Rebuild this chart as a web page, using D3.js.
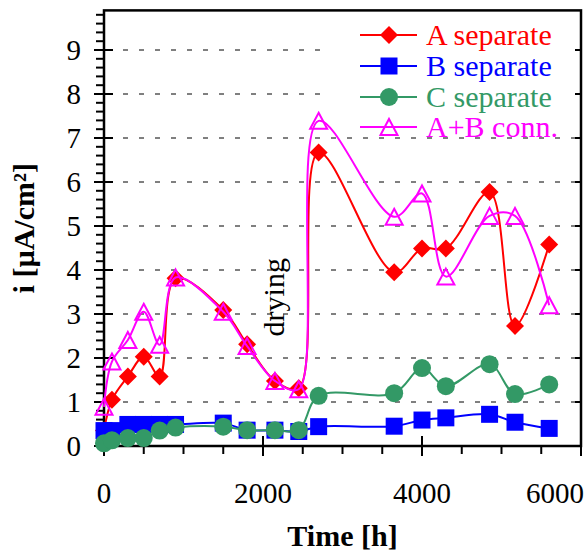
<!DOCTYPE html>
<html>
<head>
<meta charset="utf-8">
<title>Current vs time</title>
<script src="https://cdnjs.cloudflare.com/ajax/libs/d3/7.8.5/d3.min.js"></script>
<style type="text/css">
body { margin: 0; background: #fff; }
svg text { font-family: "Liberation Serif", "Times New Roman", serif; }
.grid line { stroke: #000; stroke-width: 1; stroke-dasharray: 5,11; stroke-dashoffset: 13; }
.frame { fill: none; stroke: #000; stroke-width: 2.5; }
.tick-line { stroke: #000; stroke-width: 2; }
.series-line { fill: none; stroke-width: 2; }
</style>
</head>
<body>
<svg width="587" height="552"></svg>
<script type="text/javascript">
// time of each measurement [h]
var hours = [0, 100, 300, 500, 700, 900, 1500, 1800, 2150, 2450, 2700, 3650, 4000, 4300, 4850, 5170, 5600];
// current density [uA/cm2]
var aSeparate = [0.35, 1.05, 1.58, 2.03, 1.58, 3.81, 3.09, 2.31, 1.48, 1.31, 6.67, 3.95, 4.49, 4.49, 5.77, 2.73, 4.58];
var bSeparate = [0.35, 0.35, 0.49, 0.49, 0.49, 0.49, 0.52, 0.36, 0.36, 0.33, 0.44, 0.45, 0.59, 0.64, 0.72, 0.54, 0.40];
var cSeparate = [0.06, 0.13, 0.18, 0.18, 0.35, 0.42, 0.44, 0.36, 0.36, 0.36, 1.14, 1.20, 1.77, 1.36, 1.86, 1.18, 1.40];
var abConn    = [0.89, 1.92, 2.41, 3.05, 2.30, 3.83, 3.05, 2.27, 1.48, 1.29, 7.39, 5.21, 5.74, 3.85, 5.23, 5.23, 3.20];

var seriesNames = ["A separate", "B separate", "C separate", "A+B conn."];
var seriesColors = ["#ff0000", "#0000ff", "#339966", "#ff00ff"];
var seriesMarkers = ["diamond", "square", "circle", "triangle"];
var seriesValues = [aSeparate, bSeparate, cSeparate, abConn];

var xMajorTicks = [0, 2000, 4000, 6000];
var yMajorTicks = [0, 1, 2, 3, 4, 5, 6, 7, 8, 9];
var annotation = {text: "drying", hour: 2270, value: 3.38};

var svg = d3.select("svg");
var x = d3.scaleLinear().domain([0, 6000]).range([104, 581]);
var y = d3.scaleLinear().domain([0, 9.9]).range([446, 10.4]);

// dashed horizontal grid
svg.append("g").attr("class", "grid").selectAll("line")
  .data(yMajorTicks.filter(function(d){ return d > 0; })).enter().append("line")
  .attr("x1", x(0)).attr("x2", x(6000))
  .attr("y1", function(d){ return y(d); }).attr("y2", function(d){ return y(d); });

// legend background hides the grid behind it
svg.append("rect").attr("x", 326).attr("y", 13).attr("width", 249).attr("height", 121).style("fill", "#fff");

// y axis: minor ticks every 0.2, major crossing ticks
var yMinor = d3.range(0, 9.81, 0.2);
svg.append("g").selectAll("line").data(yMinor).enter().append("line").attr("class", "tick-line")
  .attr("x1", x(0) - 8).attr("x2", x(0))
  .attr("y1", function(d){ return y(d); }).attr("y2", function(d){ return y(d); });
svg.append("g").selectAll("line").data(yMajorTicks).enter().append("line").attr("class", "tick-line")
  .attr("x1", x(0) - 10).attr("x2", x(0) + 9)
  .attr("y1", function(d){ return y(d); }).attr("y2", function(d){ return y(d); });
// right side inward ticks
svg.append("g").selectAll("line").data(yMajorTicks).enter().append("line").attr("class", "tick-line")
  .attr("x1", x(6000) - 6).attr("x2", x(6000))
  .attr("y1", function(d){ return y(d); }).attr("y2", function(d){ return y(d); });
svg.append("g").selectAll("text").data(yMajorTicks).enter().append("text")
  .attr("x", 81).attr("y", function(d){ return y(d); }).attr("dy", "0.35em")
  .attr("text-anchor", "end").style("font-size", "29px").text(function(d){ return d; });

// x axis: minor every 500 below, major crossing
var xMinor = d3.range(0, 6001, 500);
svg.append("g").selectAll("line").data(xMinor).enter().append("line").attr("class", "tick-line")
  .attr("x1", function(d){ return x(d); }).attr("x2", function(d){ return x(d); })
  .attr("y1", y(0)).attr("y2", y(0) + 8);
svg.append("g").selectAll("line").data(xMajorTicks).enter().append("line").attr("class", "tick-line")
  .attr("x1", function(d){ return x(d); }).attr("x2", function(d){ return x(d); })
  .attr("y1", y(0) - 10).attr("y2", y(0) + 10);
svg.append("g").selectAll("text").data(xMajorTicks).enter().append("text")
  .attr("x", function(d){ return d === 6000 ? 584 : x(d); }).attr("y", 503)
  .attr("text-anchor", function(d){ return d === 6000 ? "end" : "middle"; })
  .style("font-size", "29px").text(function(d){ return d; });

// frame
svg.append("rect").attr("class", "frame")
  .attr("x", x(0)).attr("y", y(9.9)).attr("width", x(6000) - x(0)).attr("height", y(0) - y(9.9));

// axis titles
svg.append("text").attr("x", (x(0) + x(6000)) / 2).attr("y", 546).attr("text-anchor", "middle")
  .style("font-size", "30px").style("font-weight", "bold").text("Time [h]");
svg.append("text").attr("transform", "translate(34," + (y(0) + y(9.9)) / 2 + ") rotate(-90)")
  .attr("text-anchor", "middle").style("font-size", "30px").style("font-weight", "bold").text("i [µA/cm²]");

function markerPath(kind) {
  if (kind === "diamond") return "M0,-9L9,0L0,9L-9,0Z";
  if (kind === "square") return "M-8.5,-8.5H8.5V8.5H-8.5Z";
  if (kind === "triangle") return "M0,-8L8.5,8L-8.5,8Z";
  return "M-9,0A9,9 0 1,0 9,0A9,9 0 1,0 -9,0Z";
}
function styleMarker(sel, i) {
  if (seriesMarkers[i] === "triangle") {
    sel.style("fill", "none").style("stroke", seriesColors[i]).style("stroke-width", 2);
  } else {
    sel.style("fill", seriesColors[i]).style("stroke", "none");
  }
}

var line = d3.line().curve(d3.curveCatmullRom.alpha(0.5))
  .x(function(d){ return x(d[0]); }).y(function(d){ return y(d[1]); });

for (var i = 0; i < seriesValues.length; i++) {
  var pts = hours.map(function(h, k){ return [h, seriesValues[i][k]]; });
  var g = svg.append("g").attr("class", "series");
  g.append("path").attr("class", "series-line").attr("d", line(pts)).style("stroke", seriesColors[i]);
  var m = g.selectAll(".marker").data(pts).enter().append("path").attr("class", "marker")
    .attr("transform", function(d){ return "translate(" + x(d[0]) + "," + y(d[1]) + ")"; })
    .attr("d", markerPath(seriesMarkers[i]));
  styleMarker(m, i);
}

// legend
var legendRows = [35, 66, 97, 127];
var legend = svg.append("g").selectAll("g").data(seriesNames).enter().append("g")
  .attr("transform", function(d, i){ return "translate(0," + legendRows[i] + ")"; });
legend.append("line").attr("x1", 360).attr("x2", 417).attr("y1", 0).attr("y2", 0)
  .style("stroke", function(d, i){ return seriesColors[i]; }).style("stroke-width", 2);
legend.each(function(d, i) {
  var mk = d3.select(this).append("path").attr("transform", "translate(389,0)").attr("d", markerPath(seriesMarkers[i]));
  styleMarker(mk, i);
});
legend.append("text").attr("x", 426).attr("y", 10).style("font-size", "30px")
  .style("fill", function(d, i){ return seriesColors[i]; }).text(function(d){ return d; });

// annotation
svg.append("text").attr("transform", "translate(" + x(annotation.hour) + "," + y(annotation.value) + ") rotate(-90)")
  .attr("text-anchor", "middle").style("font-size", "30px").text(annotation.text);
</script>
</body>
</html>
